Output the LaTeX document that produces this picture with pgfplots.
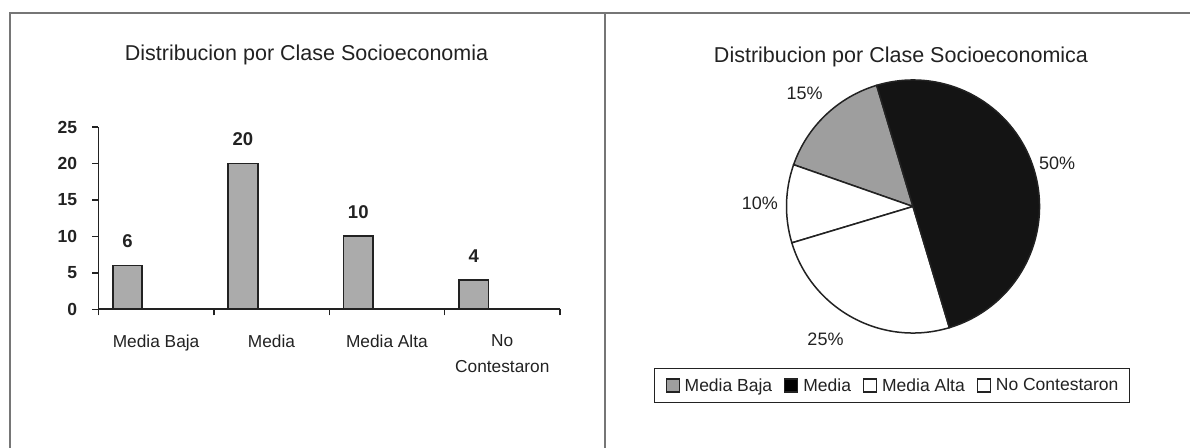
\documentclass[border=0pt]{standalone}
\usepackage{fontspec}
\setmainfont{Liberation Sans}
\usepackage{pgfplots}
\usepackage{pgfplotstable}
\pgfplotsset{compat=1.18}

\definecolor{framegray}{HTML}{767676}
\definecolor{bargray}{HTML}{ABABAB}
\definecolor{piegray}{HTML}{9E9E9E}
\definecolor{ink}{HTML}{222222}

% respondents by socioeconomic class
\pgfplotstableread{
x count
0 6
1 20
2 10
3 4
}\socio

\pgfplotstablegetelem{0}{count}\of\socio\let\nBaja\pgfplotsretval
\pgfplotstablegetelem{1}{count}\of\socio\let\nMedia\pgfplotsretval
\pgfplotstablegetelem{2}{count}\of\socio\let\nAlta\pgfplotsretval
\pgfplotstablegetelem{3}{count}\of\socio\let\nNC\pgfplotsretval

% pie slice angles, counter-clockwise
\pgfmathsetmacro\total{\nBaja+\nMedia+\nAlta+\nNC}
\pgfmathsetmacro\aStart{106.7}
\pgfmathsetmacro\aOne{\aStart+360*\nBaja/\total}
\pgfmathsetmacro\aTwo{\aOne+360*\nNC/\total}
\pgfmathsetmacro\aThree{\aTwo+360*\nAlta/\total}
\pgfmathsetmacro\aFour{\aThree+360*\nMedia/\total}
\pgfmathsetmacro\mBaja{(\aStart+\aOne)/2}
\pgfmathsetmacro\mNC{(\aOne+\aTwo)/2}
\pgfmathsetmacro\mAlta{(\aTwo+\aThree)/2}
\pgfmathsetmacro\mMedia{(\aThree+\aFour)/2}
\pgfmathtruncatemacro\pBaja{round(100*\nBaja/\total)}
\pgfmathtruncatemacro\pMedia{round(100*\nMedia/\total)}
\pgfmathtruncatemacro\pAlta{round(100*\nAlta/\total)}
\pgfmathtruncatemacro\pNC{round(100*\nNC/\total)}
\def\rPie{126.5}

\begin{document}
\begin{tikzpicture}
\path[use as bounding box] (0pt,0pt) rectangle (1190pt,447pt);

% panel frames
\draw[framegray, line width=2pt] (10pt,-2pt) -- (10pt,434.3pt) -- (1192pt,434.3pt);
\draw[framegray, line width=2pt] (605pt,-2pt) -- (605pt,434.3pt);

% titles
\node[ink, font=\fontsize{21.5}{25}\selectfont] at (306.5pt,392pt) {Distribucion por Clase Socioeconomia};
\node[ink, font=\fontsize{21.5}{25}\selectfont] at (901pt,390pt) {Distribucion por Clase Socioeconomica};

% bar chart
\begin{axis}[
  at={(98.4pt,137.7pt)}, anchor=south west,
  scale only axis, width=461.6pt, height=182.3pt,
  xmin=-0.5, xmax=3.5, ymin=0, ymax=25,
  axis x line=bottom, axis y line=left,
  axis line style={-, ink, line width=1.6pt},
  ybar,
  /pgf/number format/assume math mode=true,
  xtick={0,1,2,3},
  xticklabels={Media Baja, Media, Media Alta, {No\\Contestaron}},
  minor xtick={-0.5,0.5,1.5,2.5,3.5},
  ytick={0,5,...,25},
  tick align=outside,
  major tick length=6pt, minor tick length=6pt,
  tick style={ink, line width=1.4pt},
  major x tick style={draw=none},
  xticklabel style={font=\fontsize{17.3}{26}\selectfont, text=ink, align=center, anchor=north, inner sep=0pt, yshift=-19pt},
  yticklabel style={font=\bfseries\fontsize{17.5}{20}\selectfont, text=ink, anchor=east, inner sep=0pt, xshift=-15pt},
  clip=false,
]
\addplot[ybar, bar width=0.256, bar shift=-0.248, fill=bargray, draw=ink, line width=1.8pt,
  nodes near coords,
  nodes near coords style={font=\bfseries\fontsize{18.5}{21}\selectfont, text=ink, anchor=center, yshift=24pt}]
  table[x=x, y=count] {\socio};
\end{axis}

% pie chart
\begin{axis}[
  at={(786.5pt,114pt)}, anchor=south west,
  scale only axis, width=253pt, height=253pt,
  xmin=-1, xmax=1, ymin=-1, ymax=1,
  hide axis, clip=false,
  legend columns=4,
  legend style={at={(0.417,-0.2075)}, anchor=center, draw=ink, line width=1.4pt,
    font=\fontsize{17.5}{20}\selectfont, text=ink,
    inner xsep=11pt, inner ysep=10pt,
    nodes={inner sep=0pt},
    /tikz/every odd column/.append style={column sep=5pt},
    /tikz/every even column/.append style={column sep=12pt}},
  legend image code/.code={\draw[#1, line width=1.1pt] (0pt,-6.5pt) rectangle (13pt,6.5pt);},
]
\addlegendimage{fill=piegray, draw=ink}
\addlegendentry{Media Baja}
\addlegendimage{fill=black, draw=ink}
\addlegendentry{Media}
\addlegendimage{fill=white, draw=ink}
\addlegendentry{Media Alta}
\addlegendimage{fill=white, draw=ink}
\addlegendentry{No Contestaron}

\draw[fill=piegray, draw=ink, line width=1.5pt] (axis cs:0,0) -- (axis cs:{cos(\aStart)},{sin(\aStart)}) arc[start angle=\aStart, end angle=\aOne, radius=\rPie pt] -- cycle;
\draw[fill=white, draw=ink, line width=1.5pt] (axis cs:0,0) -- (axis cs:{cos(\aOne)},{sin(\aOne)}) arc[start angle=\aOne, end angle=\aTwo, radius=\rPie pt] -- cycle;
\draw[fill=white, draw=ink, line width=1.5pt] (axis cs:0,0) -- (axis cs:{cos(\aTwo)},{sin(\aTwo)}) arc[start angle=\aTwo, end angle=\aThree, radius=\rPie pt] -- cycle;
\draw[fill=black!92, draw=ink, line width=1.5pt] (axis cs:0,0) -- (axis cs:{cos(\aThree)},{sin(\aThree)}) arc[start angle=\aThree, end angle=\aFour, radius=\rPie pt] -- cycle;

% percentage labels outside each slice
\node[text=ink, font=\fontsize{18}{21}\selectfont] at (axis cs:{1.24*cos(\mBaja)},{1.24*sin(\mBaja)}) {\pBaja\%};
\node[text=ink, font=\fontsize{18}{21}\selectfont] at (axis cs:{1.21*cos(\mNC)},{1.21*sin(\mNC)}) {\pNC\%};
\node[text=ink, font=\fontsize{18}{21}\selectfont] at (axis cs:{1.26*cos(\mAlta-5)},{1.26*sin(\mAlta-5)}) {\pAlta\%};
\node[text=ink, font=\fontsize{18}{21}\selectfont] at (axis cs:{1.19*cos(\mMedia)},{1.19*sin(\mMedia)}) {\pMedia\%};
\end{axis}
\end{tikzpicture}
\end{document}
